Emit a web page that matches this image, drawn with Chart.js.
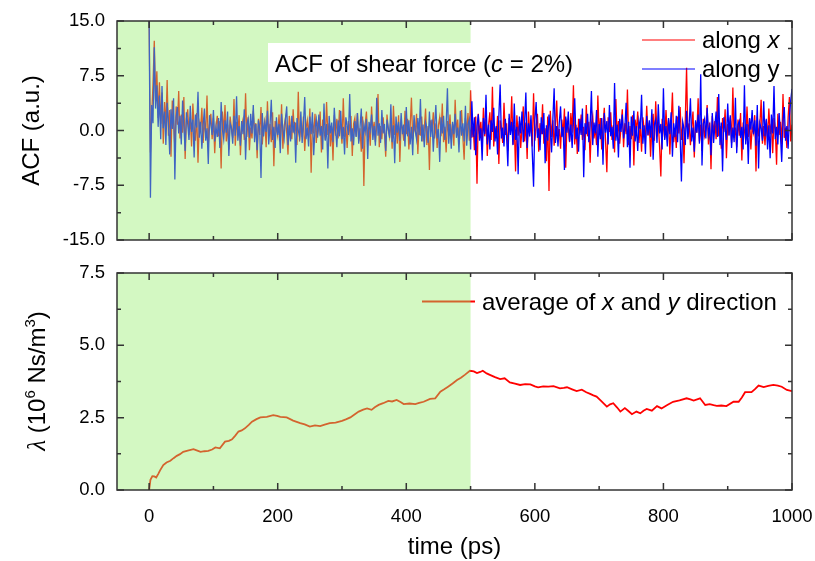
<!DOCTYPE html>
<html>
<head>
<meta charset="utf-8">
<script src="https://cdn.jsdelivr.net/npm/chart.js@4.4.1/dist/chart.umd.min.js"></script>
<style>
  html, body { margin: 0; padding: 0; background: #fff; }
  #wrap { position: relative; width: 815px; height: 561px; }
  #acfChart { position: absolute; left: 0; top: 0; }
  #lamChart { position: absolute; left: 0; top: 250px; }
</style>
</head>
<body>
<div id="wrap">
  <canvas id="acfChart" width="815" height="250"></canvas>
  <canvas id="lamChart" width="815" height="311"></canvas>
</div>
<script>
// ---- data ----

// ACF sampled every 2 ps, 0..1000 ps
const acfTime = Array.from({ length: 501 }, (_, i) => i * 2);

// ACF of shear force along x (a.u.)
const acfX = [
  15.0, -3.0, 2.1, 6.3, 12.3, 4.2, 8.1, 1.7, 6.6, 0.9,
  5.2, -1.8, 3.9, 0.4, 6.9, -0.7, 2.8, -3.6, 4.1, 1.2,
  -2.4, 3.3, 0.8, 5.4, -1.1, 2.2, -0.3, 4.6, -3.9, 1.6,
  2.9, -0.6, 1.8, -2.2, 3.7, 0.5, -1.4, 2.4, -4.4, 1.1,
  0.2, 3.1, -1.7, 1.4, -0.5, 4.8, -2.0, 0.9, 2.3, -1.2,
  1.7, -3.1, 0.6, 2.0, -0.8, 1.3, -5.2, 2.6, -0.4, 3.5,
  -1.5, 0.8, -2.6, 1.9, 0.3, -1.0, 4.3, -2.1, 1.2, -0.2,
  2.1, -3.4, 0.7, 1.5, -1.3, 5.1, -0.9, 1.8, -2.7, 0.4,
  -1.1, 2.7, -0.2, 1.0, -3.8, 1.6, -0.6, 3.2, -1.9, 0.5,
  1.4, -2.3, 4.0, -0.7, 0.9, -1.6, 2.5, -4.9, 1.3, 0.1,
  -0.8, 2.2, -1.4, 3.6, -2.5, 0.6, 1.7, -0.3, -3.3, 2.0,
  0.4, -1.2, 2.9, -0.5, 1.1, -2.0, 5.3, -1.5, 0.7, -0.9,
  1.9, -2.8, 0.3, 1.4, -1.0, 3.0, -5.8, 1.2, -0.4, 2.3,
  -1.7, 0.8, -0.2, 2.6, -3.0, 1.5, 0.0, -1.3, 3.9, -0.6,
  1.0, -2.2, 0.5, -4.1, 2.1, -0.7, 1.6, -1.1, 2.8, 0.2,
  -1.8, 4.4, -0.9, 0.6, -2.4, 1.3, -0.1, 2.0, -3.5, 0.9,
  1.7, -0.8, 2.4, -1.5, 0.3, -2.9, 1.9, -7.6, 0.8, 2.6,
  -1.0, 0.5, -2.1, 3.3, -0.4, 1.2, -1.6, 0.7, 5.0, -2.3,
  0.6, -1.2, 1.8, -0.3, -3.6, 2.2, 0.1, -0.9, 1.5, -2.5,
  3.4, -0.6, 0.9, -1.8, 2.1, -4.3, 1.0, 0.3, -1.4, 2.7,
  -0.5, 1.6, -2.6, 0.4, 4.5, -1.3, 0.8, -0.2, 2.3, -3.2,
  1.1, -0.7, 1.9, -1.5, 0.2, 3.0, -2.0, 0.6, -5.4, 1.4,
  0.0, 2.5, -1.1, 1.0, -2.4, 0.7, 1.8, -0.8, 3.7, -1.6,
  0.5, -3.0, 1.3, -0.4, 2.2, -1.2, 0.9, -2.1, 4.2, -0.3,
  1.5, -1.9, 0.4, 2.8, -0.9, -4.0, 1.7, -0.2, 2.4, -1.4,
  5.5, -1.0, 0.6, -2.7, 1.9, -7.3, 2.3, -0.5, 1.2, -2.0,
  3.1, -0.8, 1.6, -3.5, 0.7, 2.5, -1.3, 6.0, -2.2, 0.4,
  -1.1, 2.0, -4.6, 1.4, 0.1, -1.7, 3.8, -0.6, 1.0, -2.8,
  1.7, -0.3, 4.7, -1.9, 0.8, -5.6, 2.1, -0.7, 1.3, -2.4,
  0.5, 3.3, -1.5, 1.1, -3.9, 2.6, -0.2, 0.9, -2.2, 5.1,
  -1.4, 0.6, 2.3, -2.9, 1.0, -0.5, 3.6, -1.8, 0.3, -4.2,
  1.9, -8.3, 2.7, -0.9, 1.4, -2.1, 0.7, 4.1, -1.2, 0.2,
  -2.5, 1.5, -0.6, 3.0, -5.1, 1.1, 0.4, -1.6, 2.4, -0.3,
  6.2, -1.9, 0.8, -3.2, 1.6, -0.4, 2.2, -1.3, 0.5, -2.7,
  3.5, -0.8, 1.2, -4.4, 0.9, 2.0, -1.1, 0.3, -2.0, 4.8,
  -0.6, 1.7, -2.6, 0.6, 3.1, -1.5, -5.7, 1.8, -0.2, 2.5,
  -1.3, 0.7, -3.0, 4.3, -0.9, 1.3, -1.8, 0.4, 2.9, -2.3,
  1.0, -0.5, 5.6, -2.0, 0.6, -1.2, 2.1, -4.8, 1.5, -0.1,
  2.6, -1.7, 0.9, -2.9, 1.8, 0.2, -1.0, 3.4, -0.7, 1.1,
  -3.6, 0.5, 2.3, -1.4, 4.0, -0.8, 1.2, -2.2, -6.3, 1.6,
  0.4, -1.1, 2.8, -0.6, 1.5, -3.3, 0.9, 5.2, -1.6, 0.3,
  -2.4, 1.9, -0.4, 3.2, -1.3, 0.7, -4.5, 1.4, 8.6, -0.9,
  1.0, -2.0, 0.5, 2.6, -3.7, 1.2, -0.3, 4.4, -1.5, 0.8,
  -2.8, 1.6, -0.7, 0.2, 3.5, -1.9, 1.1, -5.3, 2.0, -0.4,
  1.3, -1.2, 4.6, -0.8, 0.6, -2.5, 1.7, -0.2, 2.9, -3.8,
  0.9, -0.6, 1.8, -1.7, 5.9, -1.0, 0.4, -2.3, 1.5, -0.7,
  2.4, -4.1, 1.1, 0.0, -1.4, 3.3, -0.9, 1.6, -2.6, 0.5,
  -0.3, 2.1, -5.6, 1.9, -0.8, 0.7, 4.2, -1.8, 0.6, -2.0,
  1.4, -1.1, 3.0, -0.5, 0.9, -3.1, 1.7, 0.1, -4.7, 2.3,
  -0.6, 1.2, -1.9, 5.0, -1.0, 0.4, -2.4, 1.8, 4.6, -1.5,
  0.8
];

// ACF of shear force along y (a.u.)
const acfY = [
  15.0, -9.2, 3.5, 1.0, 11.4, 3.0, 6.2, 0.5, 4.8, -1.2,
  6.1, 0.3, 2.6, -2.0, 3.8, 1.1, -3.3, 2.9, 0.2, 4.4,
  -6.7, 1.8, 3.2, -0.4, 2.0, -1.9, 4.1, 0.6, -2.8, 2.5,
  0.9, -1.3, 3.4, -0.2, 1.5, -3.7, 2.2, 0.4, 5.3, -1.0,
  1.2, -2.5, 0.7, 3.0, -1.4, 0.3, -4.6, 2.1, 0.8, -0.6,
  2.8, -1.5, 0.5, -0.9, 1.7, -2.4, 3.9, 0.1, -1.2, 1.4,
  -0.3, 2.6, -3.5, 1.0, 0.4, -1.8, 2.0, -0.7, 4.7, -1.4,
  0.6, -2.1, 1.3, -0.5, 2.9, -4.0, 0.8, 1.6, -1.0, 2.3,
  -0.4, 3.5, -1.6, 0.9, -2.7, 1.4, 0.2, -6.5, 2.4, -0.8,
  1.1, -0.2, 2.7, -1.9, 0.6, 4.2, -1.3, 0.5, -2.4, 1.8,
  -0.6, 0.9, -3.1, 2.3, 0.2, -1.1, 1.5, 3.3, -2.0, 0.7,
  -1.5, 2.0, -0.3, 1.2, -4.4, 1.7, 0.0, -0.9, 2.6, -1.7,
  0.8, 4.6, -1.2, 0.4, -2.2, 1.9, -0.5, 2.5, -3.4, 0.3,
  1.5, -1.0, 2.2, -0.7, 0.6, -2.6, 3.7, -1.4, 0.9, -5.2,
  2.0, -0.4, 1.1, -1.6, 3.1, 0.2, -2.3, 1.4, -0.8, 2.7,
  -1.2, 0.5, -3.3, 1.8, 0.7, -0.6, 5.0, -1.5, 0.3, -2.0,
  1.3, -0.9, 2.4, -1.8, 0.4, 3.0, -2.5, 0.8, -0.2, 1.6,
  -3.9, 1.2, 0.1, 2.2, -1.3, 0.6, -2.1, 4.5, -0.7, 1.0,
  -1.7, 2.8, -0.4, 0.9, -2.8, 1.5, 0.3, -1.0, 3.6, -1.6,
  0.7, -4.5, 1.9, -0.3, 1.2, -1.4, 2.4, -0.5, 0.8, -2.2,
  3.2, -0.8, 1.4, -1.9, 0.5, -3.4, 2.1, 0.0, -1.2, 1.7,
  -0.6, 4.3, -1.5, 0.8, -2.3, 1.1, 0.4, -1.7, 2.6, -0.9,
  1.5, -2.9, 0.6, 3.5, -1.1, 0.2, -4.3, 1.8, -0.4, 2.0,
  -1.3, 0.7, 5.8, -1.8, 0.9, -2.5, 1.2, -0.5, 2.3, -1.0,
  0.4, -3.0, 2.7, -0.7, 1.0, -1.5, 3.4, -2.1, 0.8, 1.5,
  -2.6, 4.0, -0.9, 1.8, -3.4, 0.6, 2.2, -1.4, 0.3, -4.1,
  1.7, -0.5, 4.9, -1.9, 0.8, -2.6, 1.4, -0.2, 3.1, -1.5,
  0.6, -3.3, 2.0, 6.3, -1.1, 0.4, -2.2, 1.6, -0.7, -4.9,
  2.3, -0.6, 1.2, -2.0, 3.7, -1.3, 0.5, -6.0, 1.9, -0.4,
  2.6, -1.6, 0.9, 5.2, -2.4, 1.0, -0.8, 2.1, -3.1, -7.7,
  1.4, 3.9, -1.0, 0.3, -2.7, 1.8, -0.5, 2.4, -4.5, 0.7,
  -1.4, 2.2, 0.0, -3.0, 1.5, 5.8, -1.7, 0.6, -2.2, 1.1,
  3.3, -0.9, 0.5, -5.4, 1.9, -0.3, 2.6, -1.5, 0.8, -2.4,
  1.2, 4.4, -1.2, 0.4, -2.9, 1.6, -0.6, 3.0, -6.4, 1.0,
  -0.5, 2.3, -1.6, 0.7, 5.4, -2.0, 1.1, -0.4, 2.8, -3.6,
  0.9, -1.2, 1.7, -4.7, 2.4, -0.3, 1.3, -1.9, 3.5, -0.8,
  0.5, -2.5, 6.5, -1.4, 0.8, -3.7, 1.6, -0.2, 2.2, -1.1,
  0.3, 3.8, -2.3, 1.2, -5.1, 1.9, -0.7, 2.7, -1.5, 0.6,
  -2.8, 1.3, 0.2, 4.9, -1.8, 0.7, -3.2, 2.0, -0.6, 1.4,
  -1.0, 2.9, -4.0, 0.8, 1.5, -1.7, 3.6, -0.4, 0.9, -2.6,
  5.8, -1.3, 0.6, -2.2, 1.7, -0.5, 2.5, -3.6, 1.0, -0.9,
  2.0, -1.6, 3.4, -0.8, -7.0, 1.2, 0.3, -2.0, 2.7, -1.2,
  0.8, 4.4, -1.5, 0.4, -2.9, 1.4, -0.3, 2.2, -1.8, 7.7,
  -4.8, 0.9, 1.6, -1.1, 3.1, -0.6, 0.5, -3.4, 2.4, -1.7,
  0.6, 2.6, -0.9, 5.0, -2.0, 1.1, -5.6, 1.8, 0.2, -1.3,
  3.7, -0.7, 2.1, -2.4, 0.4, -1.6, 4.5, -3.1, 0.8, 1.3,
  -1.0, 0.5, -2.6, 6.2, -1.9, 0.9, -4.6, 1.7, 0.1, 2.8,
  -0.5, 1.4, -2.1, 3.5, -5.2, 1.0, 0.3, -1.4, 4.0, -0.8,
  1.6, -2.6, 0.7, -3.8, 2.2, -0.4, 6.1, -1.2, 0.5, -1.9,
  2.4, -0.6, -4.3, 1.3, 3.2, -1.4, 0.6, -2.5, 1.9, 4.1,
  5.7
];

// friction coefficient lambda (10^6 Ns/m^3), average of x and y
const lamTime = [
  0, 2, 5, 8, 11, 14, 17, 22, 27, 33,
  38, 43, 48, 53, 60, 69, 75, 80, 86, 92,
  98, 103, 110, 118, 124, 129, 134, 139, 144, 149,
  155, 160, 167, 173, 183, 193, 199, 204, 214, 224,
  235, 242, 250, 258, 266, 273, 281, 290, 300, 306,
  313, 320, 326, 333, 339, 346, 351, 357, 364, 372,
  378, 385, 391, 396, 405, 414, 420, 427, 437, 445,
  453, 459, 465, 472, 479, 485, 491, 499, 505, 510,
  515, 519, 525, 530, 538, 546, 553, 561, 569, 577,
  585, 593, 600, 605, 613, 621, 629, 639, 645, 650,
  658, 665, 673, 680, 686, 691, 696, 703, 712, 717,
  722, 728, 733, 740, 745, 751, 758, 764, 769, 774,
  782, 790, 797, 806, 815, 825, 836, 842, 847, 857,
  865, 872, 878, 883, 890, 898, 909, 917, 922, 927,
  937, 942, 948, 956, 963, 971, 978, 984, 992, 1000
];
const lamValue = [
  0.00, 0.35, 0.48, 0.47, 0.43, 0.55, 0.68, 0.86, 0.95, 1.01,
  1.10, 1.18, 1.24, 1.32, 1.36, 1.41, 1.36, 1.32, 1.34, 1.35,
  1.40, 1.47, 1.44, 1.67, 1.70, 1.75, 1.88, 2.02, 2.06, 2.13,
  2.25, 2.36, 2.45, 2.51, 2.53, 2.59, 2.56, 2.53, 2.51, 2.40,
  2.31, 2.27, 2.19, 2.23, 2.21, 2.26, 2.31, 2.33, 2.39, 2.44,
  2.51, 2.62, 2.71, 2.78, 2.82, 2.77, 2.86, 2.94, 3.00, 3.08,
  3.06, 3.11, 3.04, 2.97, 2.99, 2.97, 3.01, 3.05, 3.15, 3.17,
  3.40, 3.48, 3.57, 3.68, 3.80, 3.88, 3.98, 4.12, 4.10, 4.04,
  4.08, 4.12, 4.03, 3.98, 3.90, 3.83, 3.86, 3.72, 3.68, 3.63,
  3.66, 3.65, 3.58, 3.55, 3.58, 3.57, 3.59, 3.51, 3.53, 3.55,
  3.48, 3.42, 3.47, 3.38, 3.32, 3.27, 3.23, 3.08, 2.88, 2.96,
  3.00, 2.85, 2.71, 2.83, 2.74, 2.62, 2.71, 2.65, 2.74, 2.80,
  2.74, 2.90, 2.82, 2.94, 3.05, 3.10, 3.17, 3.13, 3.09, 3.17,
  2.94, 2.97, 2.93, 2.91, 2.92, 2.90, 3.05, 3.05, 3.20, 3.38,
  3.38, 3.48, 3.61, 3.56, 3.60, 3.63, 3.61, 3.57, 3.46, 3.42
];

// axis ticks
const xTicks = [0, 200, 400, 600, 800, 1000];
const xMinorTicks = [100, 300, 500, 700, 900];
const acfTicks = [-15, -7.5, 0, 7.5, 15];
const acfMinorTicks = [-11.25, -3.75, 3.75, 11.25];
const lamTicks = [0, 2.5, 5, 7.5];
const lamMinorTicks = [1.25, 3.75, 6.25];

// shaded (equilibration) window in ps
const shadeWindow = [-50, 500];

// ---- styling ----
const SANS = '"Liberation Sans", Arial, sans-serif';
const SHADE = 'rgba(150, 238, 110, 0.42)';
const FRAME = '#333';

function drawRuns(ctx, runs, x, y) {
  let cx = x;
  runs.forEach(r => {
    ctx.font = r.font;
    ctx.fillText(r.text, cx, y + (r.dy || 0));
    cx += ctx.measureText(r.text).width;
  });
}

function runsWidth(ctx, runs) {
  let w = 0;
  runs.forEach(r => { ctx.font = r.font; w += ctx.measureText(r.text).width; });
  return w;
}

// box frame with inward ticks on all four sides
function drawFrame(chart, yMajor, yMinor) {
  const { ctx, chartArea: a, scales: { x, y } } = chart;
  ctx.strokeStyle = FRAME;
  ctx.lineWidth = 1.5;
  ctx.strokeRect(a.left, a.top, a.right - a.left, a.bottom - a.top);
  ctx.beginPath();
  const vt = (v, len) => {
    const px = x.getPixelForValue(v);
    ctx.moveTo(px, a.bottom); ctx.lineTo(px, a.bottom - len);
    ctx.moveTo(px, a.top); ctx.lineTo(px, a.top + len);
  };
  const ht = (v, len) => {
    const py = y.getPixelForValue(v);
    ctx.moveTo(a.left, py); ctx.lineTo(a.left + len, py);
    ctx.moveTo(a.right, py); ctx.lineTo(a.right - len, py);
  };
  xTicks.forEach(v => vt(v, 7));
  xMinorTicks.forEach(v => vt(v, 4));
  yMajor.forEach(v => ht(v, 7));
  yMinor.forEach(v => ht(v, 4));
  ctx.stroke();
}

function drawShade(chart) {
  const { ctx, chartArea: a, scales: { x } } = chart;
  const x0 = x.getPixelForValue(shadeWindow[0]);
  const x1 = x.getPixelForValue(shadeWindow[1]);
  ctx.fillStyle = SHADE;
  ctx.fillRect(x0, a.top, x1 - x0, a.bottom - a.top);
}

function drawYTitle(ctx, runs, baseX, centerY) {
  ctx.save();
  ctx.translate(baseX, centerY);
  ctx.rotate(-Math.PI / 2);
  ctx.fillStyle = '#000';
  ctx.textBaseline = 'alphabetic';
  ctx.textAlign = 'left';
  drawRuns(ctx, runs, -runsWidth(ctx, runs) / 2, 0);
  ctx.restore();
}

const f24 = '24px ' + SANS;
const i24 = 'italic 24px ' + SANS;

const acfDecor = {
  id: 'acfDecor',
  afterDatasetsDraw(chart) {
    const { ctx } = chart;
    ctx.save();
    drawShade(chart);
    drawFrame(chart, acfTicks, acfMinorTicks);

    // caption box
    ctx.fillStyle = '#fff';
    ctx.fillRect(268, 43, 317, 39);
    ctx.fillStyle = '#000';
    ctx.textBaseline = 'alphabetic';
    drawRuns(ctx, [
      { text: 'ACF of shear force (', font: f24 },
      { text: 'c', font: i24 },
      { text: ' = 2%)', font: f24 }
    ], 275, 71.5);

    // legend
    ctx.lineWidth = 1.2;
    ctx.strokeStyle = '#ff0000';
    ctx.beginPath(); ctx.moveTo(642, 40); ctx.lineTo(695, 40); ctx.stroke();
    ctx.strokeStyle = '#0000ff';
    ctx.beginPath(); ctx.moveTo(642, 69); ctx.lineTo(695, 69); ctx.stroke();
    ctx.fillStyle = '#000';
    drawRuns(ctx, [{ text: 'along ', font: f24 }, { text: 'x', font: i24 }], 702, 48);
    drawRuns(ctx, [{ text: 'along y', font: f24 }], 702, 76.5);
    ctx.restore();
  },
  afterDraw(chart) {
    drawYTitle(chart.ctx, [{ text: 'ACF (a.u.)', font: f24 }], 38.5, 130.5);
  }
};

const lamDecor = {
  id: 'lamDecor',
  afterDatasetsDraw(chart) {
    const { ctx } = chart;
    ctx.save();
    // legend sample line sits under the shade like the data
    ctx.strokeStyle = '#ff0000';
    ctx.lineWidth = 1.8;
    ctx.beginPath(); ctx.moveTo(422, 51.5); ctx.lineTo(475, 51.5); ctx.stroke();
    drawShade(chart);
    drawFrame(chart, lamTicks, lamMinorTicks);
    ctx.fillStyle = '#000';
    ctx.textBaseline = 'alphabetic';
    drawRuns(ctx, [
      { text: 'average of ', font: f24 },
      { text: 'x', font: i24 },
      { text: ' and ', font: f24 },
      { text: 'y', font: i24 },
      { text: ' direction', font: f24 }
    ], 482, 59.5);
    ctx.restore();
  },
  afterDraw(chart) {
    const sup = '15px ' + SANS;
    drawYTitle(chart.ctx, [
      { text: 'λ', font: 'italic 25px "Liberation Serif", serif' },
      { text: ' (10', font: f24 },
      { text: '6', font: sup, dy: -10 },
      { text: ' Ns/m', font: f24 },
      { text: '3', font: sup, dy: -10 },
      { text: ')', font: f24 }
    ], 45, 131);
  }
};

const tickFont = { family: SANS, size: 18.5 };

function noPad(s) {
  s.paddingLeft = 0; s.paddingRight = 0; s.paddingTop = 0; s.paddingBottom = 0;
}

function yScale(min, max, ticks) {
  return {
    type: 'linear', min, max,
    afterBuildTicks: s => { s.ticks = ticks.map(v => ({ value: v })); },
    ticks: { padding: 12, color: '#000', font: tickFont, callback: v => Number(v).toFixed(1) },
    grid: { display: false, drawTicks: false },
    border: { display: false },
    afterFit: s => { s.width = 117; noPad(s); }
  };
}

new Chart(document.getElementById('acfChart'), {
  type: 'line',
  data: {
    datasets: [
      {
        label: 'along x',
        data: acfTime.map((t, i) => ({ x: t, y: acfX[i] })),
        borderColor: '#ff0000', borderWidth: 1.3, pointRadius: 0, tension: 0,
        order: 2 // drawn underneath
      },
      {
        label: 'along y',
        data: acfTime.map((t, i) => ({ x: t, y: acfY[i] })),
        borderColor: '#0000ff', borderWidth: 1.3, pointRadius: 0, tension: 0,
        order: 1 // drawn on top
      }
    ]
  },
  options: {
    responsive: false,
    animation: false,
    events: [],
    layout: { autoPadding: false, padding: { top: 21, right: 23, bottom: 10, left: 0 } },
    plugins: { legend: { display: false }, tooltip: { enabled: false } },
    scales: {
      x: {
        type: 'linear', min: -50, max: 1000,
        ticks: { display: false },
        grid: { display: false, drawTicks: false },
        border: { display: false },
        afterFit: s => { s.height = 0; noPad(s); }
      },
      y: yScale(-15, 15, acfTicks)
    }
  },
  plugins: [acfDecor]
});

new Chart(document.getElementById('lamChart'), {
  type: 'line',
  data: {
    datasets: [{
      label: 'average of x and y direction',
      data: lamTime.map((t, i) => ({ x: t, y: lamValue[i] })),
      borderColor: '#ff0000', borderWidth: 1.8, pointRadius: 0, tension: 0
    }]
  },
  options: {
    responsive: false,
    animation: false,
    events: [],
    layout: { autoPadding: false, padding: { top: 23, right: 23, bottom: 0, left: 0 } },
    plugins: { legend: { display: false }, tooltip: { enabled: false } },
    scales: {
      x: {
        type: 'linear', min: -50, max: 1000,
        afterBuildTicks: s => { s.ticks = xTicks.map(v => ({ value: v })); },
        ticks: { padding: 16, color: '#000', font: tickFont, maxRotation: 0, callback: v => String(v) },
        grid: { display: false, drawTicks: false },
        border: { display: false },
        title: { display: true, text: 'time (ps)', color: '#000', font: { family: SANS, size: 24 }, padding: { top: 0, bottom: -1 } },
        afterFit: s => { s.height = 71; noPad(s); }
      },
      y: yScale(0, 7.5, lamTicks)
    }
  },
  plugins: [lamDecor]
});
</script>
</body>
</html>
